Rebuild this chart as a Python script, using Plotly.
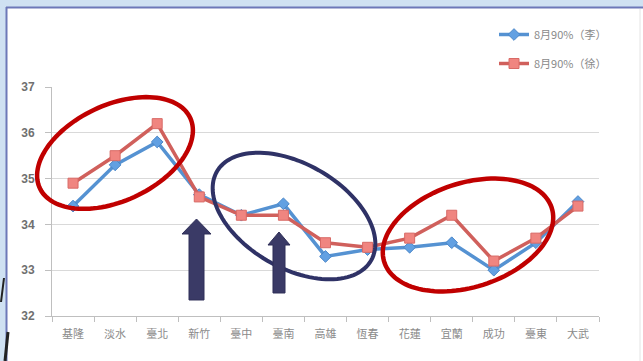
import numpy as np
import plotly.graph_objects as go

# Stations along the coast
stations = ["基隆", "淡水", "臺北", "新竹", "臺中", "臺南", "高雄",
            "恆春", "花蓮", "宜蘭", "成功", "臺東", "大武"]

# August 90th-percentile maximum temperature (°C), two estimates
li_vals = [34.4, 35.3, 35.8, 34.65, 34.2, 34.45, 33.3, 33.45, 33.5, 33.6, 33.0, 33.6, 34.5]
xu_vals = [34.9, 35.5, 36.2, 34.6, 34.2, 34.2, 33.6, 33.5, 33.7, 34.2, 33.2, 33.7, 34.4]

series_names = ["8月90%（李）", "8月90%（徐）"]
y_ticks = [32, 33, 34, 35, 36, 37]

W, H = 643, 361
L, R, T, B = 52, 44, 87, 45
PW, PH = W - L - R, H - T - B


def px(x):
    return (x - L) / PW


def py(y):
    return (H - B - y) / PH


def ellipse_path(cx, cy, a, b, deg, n=120):
    t = np.linspace(0, 2 * np.pi, n)
    th = np.deg2rad(deg)
    xs = cx + a * np.cos(t) * np.cos(th) - b * np.sin(t) * np.sin(th)
    ys = cy + a * np.cos(t) * np.sin(th) + b * np.sin(t) * np.cos(th)
    pts = [f"{px(x):.5f},{py(y):.5f}" for x, y in zip(xs, ys)]
    return "M" + " L".join(pts) + " Z"


def poly_path(points):
    pts = [f"{px(x):.5f},{py(y):.5f}" for x, y in points]
    return "M" + " L".join(pts) + " Z"


def arrow(xc, y_tip, y_base, head_w, shaft_w, head_h):
    return poly_path([
        (xc, y_tip),
        (xc + head_w / 2, y_tip + head_h),
        (xc + shaft_w / 2, y_tip + head_h),
        (xc + shaft_w / 2, y_base),
        (xc - shaft_w / 2, y_base),
        (xc - shaft_w / 2, y_tip + head_h),
        (xc - head_w / 2, y_tip + head_h),
    ])


fig = go.Figure()
fig.add_trace(go.Scatter(
    x=stations, y=li_vals, name=series_names[0], mode="lines+markers",
    legendgroup="li",
    line=dict(color="#5592d2", width=3.5),
    marker=dict(symbol="diamond", size=9, color="#62a0e2",
                line=dict(color="#4a86c8", width=1)),
))
fig.add_trace(go.Scatter(
    x=stations, y=xu_vals, name=series_names[1], mode="lines+markers",
    legendgroup="xu",
    line=dict(color="#d0605c", width=3.5),
    marker=dict(symbol="square", size=10, color="#f08580",
                line=dict(color="#d86a66", width=1)),
))

shapes = []
# slide frame
shapes.append(dict(type="rect", xref="paper", yref="paper",
                   x0=px(0), x1=px(W), y0=py(0), y1=py(7),
                   fillcolor="#cfe1f2", line=dict(width=0), layer="below"))
shapes.append(dict(type="rect", xref="paper", yref="paper",
                   x0=px(0), x1=px(6), y0=py(0), y1=py(H),
                   fillcolor="#cfe1f2", line=dict(width=0), layer="below"))
shapes.append(dict(type="line", xref="paper", yref="paper",
                   x0=px(6), x1=px(W), y0=py(7.5), y1=py(7.5),
                   line=dict(color="#6d78b8", width=2)))
shapes.append(dict(type="line", xref="paper", yref="paper",
                   x0=px(6.5), x1=px(6.5), y0=py(7), y1=py(H),
                   line=dict(color="#6d78b8", width=2)))
shapes.append(dict(type="line", xref="paper", yref="paper",
                   x0=px(640), x1=px(640), y0=py(9), y1=py(H),
                   line=dict(color="#e4e4e4", width=1)))
shapes.append(dict(type="line", xref="paper", yref="paper",
                   x0=px(4), x1=px(1), y0=py(278), y1=py(302),
                   line=dict(color="#222222", width=2)))
shapes.append(dict(type="line", xref="paper", yref="paper",
                   x0=px(8), x1=px(5), y0=py(332), y1=py(361),
                   line=dict(color="#222222", width=3)))

# highlight rings
shapes.append(dict(type="path", xref="paper", yref="paper",
                   path=ellipse_path(115, 153, 83, 48, -25),
                   line=dict(color="#c00000", width=4.5)))
shapes.append(dict(type="path", xref="paper", yref="paper",
                   path=ellipse_path(294, 216, 89, 52, 30),
                   line=dict(color="#2f3266", width=4)))
shapes.append(dict(type="path", xref="paper", yref="paper",
                   path=ellipse_path(468, 235, 88, 52, -18),
                   line=dict(color="#c00000", width=4.5)))

# pointer arrows
shapes.append(dict(type="path", xref="paper", yref="paper",
                   path=arrow(196.5, 219, 300, 29, 15, 15),
                   fillcolor="#3a3a66", line=dict(color="#2f2f58", width=1)))
shapes.append(dict(type="path", xref="paper", yref="paper",
                   path=arrow(279, 232, 293, 22, 12, 13),
                   fillcolor="#3a3a66", line=dict(color="#2f2f58", width=1)))

fig.update_layout(
    width=W, height=H,
    margin=dict(l=L, r=R, t=T, b=B),
    paper_bgcolor="white", plot_bgcolor="white",
    font=dict(family="Noto Sans CJK TC, Liberation Sans, sans-serif", color="#6e6e6e"),
    showlegend=True,
    legend=dict(x=px(494), y=py(20), xanchor="left", yanchor="top",
                font=dict(size=11, color="#8a8a8a"),
                bgcolor="rgba(0,0,0,0)", tracegroupgap=10, itemwidth=30),
    shapes=shapes,
)
fig.update_xaxes(
    type="category", range=[-0.5, len(stations) - 0.5],
    showgrid=False, showline=True, linecolor="#bfbfbf", linewidth=1,
    ticks="outside", ticklen=5, tickcolor="#bfbfbf", tickson="boundaries",
    ticklabelstandoff=8,
    tickfont=dict(size=11, color="#8a8a8a"),
)
fig.update_yaxes(
    range=[32, 37], tickvals=y_ticks, showgrid=True, gridcolor="#d9d9d9",
    gridwidth=1, showline=True, linecolor="#bfbfbf", linewidth=1,
    ticks="outside", ticklen=6, tickcolor="#bfbfbf", zeroline=False,
    ticklabelstandoff=8,
    tickfont=dict(size=12, color="#707070", family="Liberation Sans, Arial", weight="bold"),
)

fig.write_html("out.html")
